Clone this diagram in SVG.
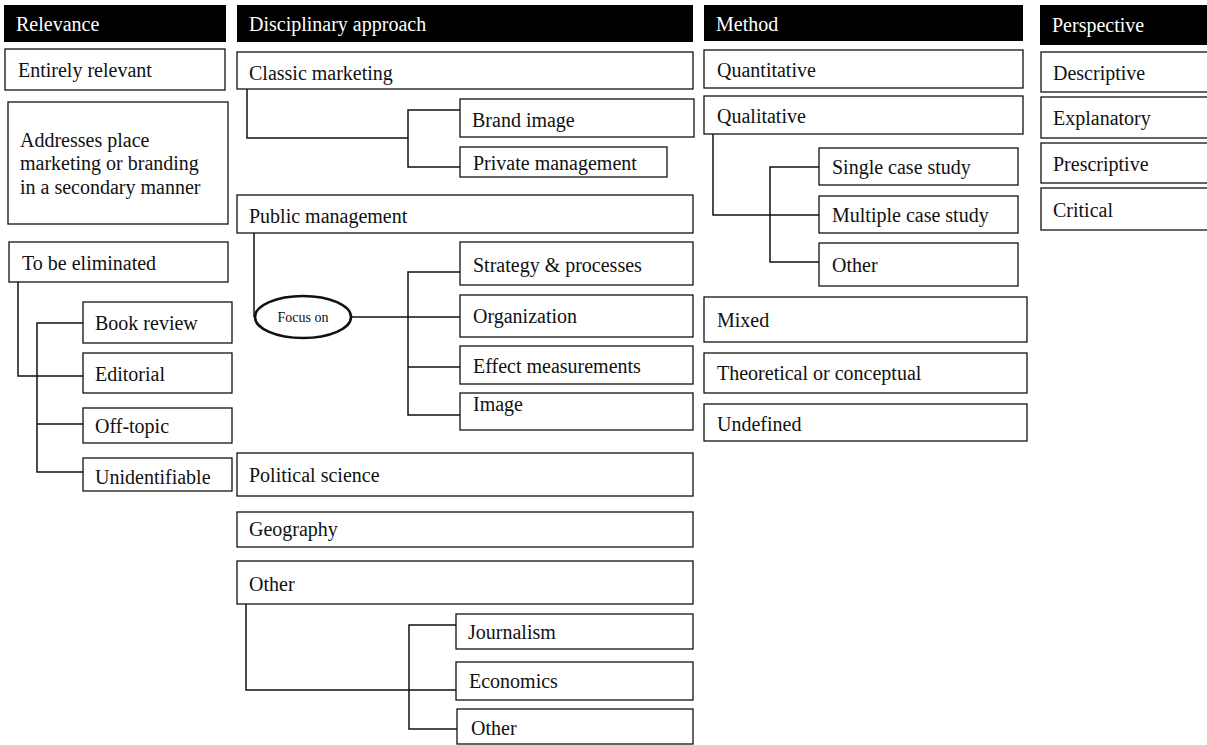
<svg xmlns="http://www.w3.org/2000/svg" width="1207" height="745" viewBox="0 0 1207 745">
<style>
text{font-family:"Liberation Serif","DejaVu Serif",serif;font-size:20px;fill:#111}
.hd rect{fill:#000;stroke:none}
.hd text{fill:#fff}
.bx rect{fill:#fff;stroke:#111;stroke-width:1.3}
#connectors path{fill:none;stroke:#111;stroke-width:1.5}
</style>
<rect width="1207" height="745" fill="#fff"/>
<!-- headers -->
<g id="h-relevance" class="hd"><rect x="4" y="5" width="222" height="37"/><text x="16" y="31">Relevance</text></g>
<g id="h-disciplinary" class="hd"><rect x="237" y="5" width="456" height="37"/><text x="249" y="31">Disciplinary approach</text></g>
<g id="h-method" class="hd"><rect x="704" y="5" width="319" height="36"/><text x="716" y="31">Method</text></g>
<g id="h-perspective" class="hd"><rect x="1040" y="5" width="170" height="40"/><text x="1052" y="32">Perspective</text></g>

<!-- connectors -->
<g id="connectors">
<path d="M18 282V376H83"/>
<path d="M83 323H37V472H83M37 424H83"/>
<path d="M247 89V138H408M460 110H408V167H460"/>
<path d="M254 233V317"/>
<path d="M352 317H460M460 272H408V415H460M408 367H460"/>
<path d="M246 604V690H456M456 625H409V729H457"/>
<path d="M713 134V215H819M819 167H770V262H819"/>
</g>

<!-- Relevance -->
<g id="n-entirely" class="bx"><rect x="5" y="49" width="220" height="41"/><text x="18" y="77">Entirely relevant</text></g>
<g id="n-addresses" class="bx"><rect x="8" y="102" width="220" height="122"/><text x="20" y="147">Addresses place</text><text x="20" y="170">marketing or branding</text><text x="20" y="194">in a secondary manner</text></g>
<g id="n-eliminated" class="bx"><rect x="9" y="242" width="219" height="40"/><text x="22" y="270">To be eliminated</text></g>
<g id="n-book" class="bx"><rect x="83" y="302" width="149" height="41"/><text x="95" y="330">Book review</text></g>
<g id="n-editorial" class="bx"><rect x="83" y="353" width="149" height="40"/><text x="95" y="381">Editorial</text></g>
<g id="n-offtopic" class="bx"><rect x="83" y="408" width="149" height="35"/><text x="95" y="433">Off-topic</text></g>
<g id="n-unident" class="bx"><rect x="83" y="458" width="149" height="33"/><text x="95" y="484">Unidentifiable</text></g>

<!-- Disciplinary -->
<g id="n-classic" class="bx"><rect x="237" y="52" width="456" height="37"/><text x="249" y="80">Classic marketing</text></g>
<g id="n-brand" class="bx"><rect x="460" y="99" width="234" height="38"/><text x="472" y="127">Brand image</text></g>
<g id="n-private" class="bx"><rect x="460" y="147" width="207" height="30"/><text x="473" y="170">Private management</text></g>
<g id="n-public" class="bx"><rect x="237" y="195" width="456" height="38"/><text x="249" y="223">Public management</text></g>
<g id="n-focus"><ellipse cx="303" cy="317" rx="48" ry="21" fill="#fff" stroke="#111" stroke-width="2.6"/><text x="303" y="322" text-anchor="middle" style="font-size:14px">Focus on</text></g>
<g id="n-strategy" class="bx"><rect x="460" y="242" width="233" height="43"/><text x="473" y="272">Strategy &amp; processes</text></g>
<g id="n-organization" class="bx"><rect x="460" y="295" width="233" height="42"/><text x="473" y="323">Organization</text></g>
<g id="n-effect" class="bx"><rect x="460" y="346" width="233" height="38"/><text x="473" y="373">Effect measurements</text></g>
<g id="n-image" class="bx"><rect x="460" y="393" width="233" height="37"/><text x="473" y="411">Image</text></g>
<g id="n-political" class="bx"><rect x="237" y="453" width="456" height="43"/><text x="249" y="482">Political science</text></g>
<g id="n-geography" class="bx"><rect x="237" y="512" width="456" height="35"/><text x="249" y="536">Geography</text></g>
<g id="n-other-d" class="bx"><rect x="237" y="561" width="456" height="43"/><text x="249" y="591">Other</text></g>
<g id="n-journalism" class="bx"><rect x="456" y="614" width="237" height="35"/><text x="468" y="639">Journalism</text></g>
<g id="n-economics" class="bx"><rect x="456" y="662" width="237" height="38"/><text x="469" y="688">Economics</text></g>
<g id="n-other-d2" class="bx"><rect x="457" y="709" width="236" height="35"/><text x="471" y="735">Other</text></g>

<!-- Method -->
<g id="n-quant" class="bx"><rect x="704" y="50" width="319" height="38"/><text x="717" y="77">Quantitative</text></g>
<g id="n-qual" class="bx"><rect x="704" y="96" width="319" height="38"/><text x="717" y="123">Qualitative</text></g>
<g id="n-single" class="bx"><rect x="819" y="148" width="199" height="37"/><text x="832" y="174">Single case study</text></g>
<g id="n-multiple" class="bx"><rect x="819" y="196" width="199" height="37"/><text x="832" y="222">Multiple case study</text></g>
<g id="n-other-m" class="bx"><rect x="819" y="243" width="199" height="43"/><text x="832" y="272">Other</text></g>
<g id="n-mixed" class="bx"><rect x="704" y="297" width="323" height="45"/><text x="717" y="327">Mixed</text></g>
<g id="n-theoretical" class="bx"><rect x="704" y="353" width="323" height="40"/><text x="717" y="380">Theoretical or conceptual</text></g>
<g id="n-undefined" class="bx"><rect x="704" y="404" width="323" height="37"/><text x="717" y="431">Undefined</text></g>

<!-- Perspective -->
<g id="n-descriptive" class="bx"><rect x="1041" y="52" width="170" height="40"/><text x="1053" y="80">Descriptive</text></g>
<g id="n-explanatory" class="bx"><rect x="1041" y="97" width="170" height="41"/><text x="1053" y="125">Explanatory</text></g>
<g id="n-prescriptive" class="bx"><rect x="1041" y="143" width="170" height="40"/><text x="1053" y="171">Prescriptive</text></g>
<g id="n-critical" class="bx"><rect x="1041" y="188" width="170" height="42"/><text x="1053" y="217">Critical</text></g>
</svg>
